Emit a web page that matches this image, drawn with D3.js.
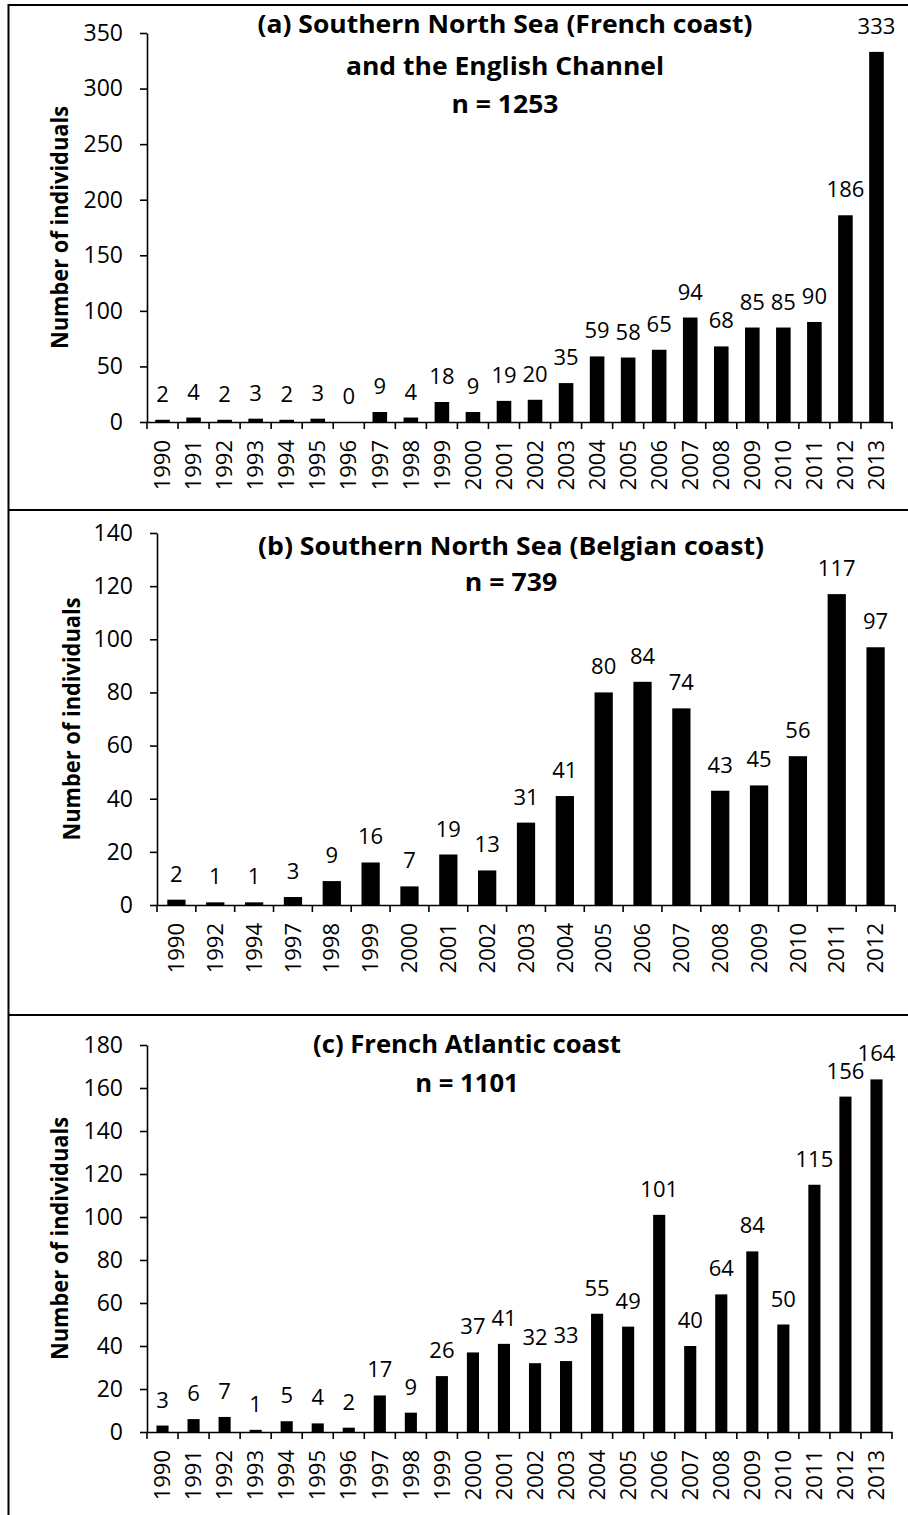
<!DOCTYPE html>
<html>
<head>
<meta charset="utf-8">
<script src="https://cdn.jsdelivr.net/npm/d3@7"></script>
<style>
  html, body { margin: 0; padding: 0; background: #fff; }
  svg { display: block; }
  text { font-family: "Open Sans", "Noto Sans", sans-serif; fill: #000; }
</style>
</head>
<body>
<svg id="chart" width="908" height="1515"></svg>
<script>
// ---------------- DATA ----------------
const yearsA = ["1990","1991","1992","1993","1994","1995","1996","1997","1998","1999","2000","2001","2002","2003","2004","2005","2006","2007","2008","2009","2010","2011","2012","2013"];
const valuesA = [2,4,2,3,2,3,0,9,4,18,9,19,20,35,59,58,65,94,68,85,85,90,186,333];
const titleA = ["(a) Southern North Sea (French coast)", "and the English Channel", "n = 1253"];
const ticksA = [0,50,100,150,200,250,300,350];

const yearsB = ["1990","1992","1994","1997","1998","1999","2000","2001","2002","2003","2004","2005","2006","2007","2008","2009","2010","2011","2012"];
const valuesB = [2,1,1,3,9,16,7,19,13,31,41,80,84,74,43,45,56,117,97];
const titleB = ["(b) Southern North Sea (Belgian coast)", "n = 739"];
const ticksB = [0,20,40,60,80,100,120,140];

const yearsC = ["1990","1991","1992","1993","1994","1995","1996","1997","1998","1999","2000","2001","2002","2003","2004","2005","2006","2007","2008","2009","2010","2011","2012","2013"];
const valuesC = [3,6,7,1,5,4,2,17,9,26,37,41,32,33,55,49,101,40,64,84,50,115,156,164];
const titleC = ["(c) French Atlantic coast", "n = 1101"];
const ticksC = [0,20,40,60,80,100,120,140,160,180];

const yAxisTitle = "Number of individuals";

// ---------------- LAYOUT ----------------
const svg = d3.select("#chart");

const panels = [
  { years: yearsA, values: valuesA, title: titleA, ticks: ticksA,
    x0: 147, x1: 892, y0: 422, y1: 33, pad: 0.53,
    titleX: 505, titleY: [33, 75, 113], titleW: 495, ylabX: 68 },
  { years: yearsB, values: valuesB, title: titleB, ticks: ticksB,
    x0: 157, x1: 895, y0: 905, y1: 533, pad: 0.53,
    titleX: 511, titleY: [555, 591], titleW: 506, ylabX: 80 },
  { years: yearsC, values: valuesC, title: titleC, ticks: ticksC,
    x0: 147, x1: 892, y0: 1432, y1: 1045, pad: 0.61,
    titleX: 467, titleY: [1053, 1092], titleW: 308, ylabX: 68 }
];

// frame: top + left border, dividers
svg.append("line").attr("x1", 8.5).attr("x2", 908).attr("y1", 5).attr("y2", 5)
  .attr("stroke", "#000").attr("stroke-width", 2);
svg.append("line").attr("x1", 8.5).attr("x2", 8.5).attr("y1", 4).attr("y2", 1515)
  .attr("stroke", "#000").attr("stroke-width", 2);
[510, 1015].forEach(yy => {
  svg.append("line").attr("x1", 8.5).attr("x2", 908).attr("y1", yy).attr("y2", yy)
    .attr("stroke", "#000").attr("stroke-width", 2.2);
});

const TITLE_FS = 25;

panels.forEach(p => {
  const g = svg.append("g");
  const maxV = p.ticks[p.ticks.length - 1];
  const x = d3.scaleBand().domain(p.years).range([p.x0, p.x1])
    .paddingInner(p.pad).paddingOuter(p.pad / 2);
  const y = d3.scaleLinear().domain([0, maxV]).range([p.y0, p.y1]);
  const rows = p.years.map((d, i) => ({ year: d, v: p.values[i] }));

  // bars
  g.selectAll("rect.bar").data(rows)
    .join("rect").attr("class", "bar")
    .attr("x", d => x(d.year)).attr("width", x.bandwidth())
    .attr("y", d => y(d.v)).attr("height", d => y(0) - y(d.v))
    .attr("fill", "#000");

  // value labels
  g.selectAll("text.val").data(rows)
    .join("text").attr("class", "val")
    .attr("x", d => x(d.year) + x.bandwidth() / 2)
    .attr("y", d => y(d.v) - 18)
    .attr("text-anchor", "middle")
    .attr("font-size", 22)
    .text(d => d.v);

  // y axis
  const ya = g.append("g").attr("transform", `translate(${p.x0},0)`)
    .call(d3.axisLeft(y).tickValues(p.ticks).tickSize(7).tickPadding(17).tickSizeOuter(0));
  ya.select(".domain").attr("stroke", "#000").attr("stroke-width", 1.6);
  ya.selectAll(".tick line").attr("stroke", "#000").attr("stroke-width", 1.6);
  ya.selectAll(".tick text").attr("font-size", 23).attr("font-family", "Open Sans").attr("fill", "#000");

  // x axis
  const xa = g.append("g").attr("transform", `translate(0,${p.y0})`)
    .call(d3.axisBottom(x).tickSize(0).tickSizeOuter(0));
  xa.select(".domain").attr("stroke", "#000").attr("stroke-width", 1.6);
  xa.selectAll(".tick text")
    .attr("font-size", 22).attr("font-family", "Open Sans").attr("fill", "#000")
    .attr("transform", "rotate(-90)")
    .attr("x", -18).attr("y", 0).attr("dy", "0.35em")
    .attr("text-anchor", "end");
  // boundary ticks
  const half = x.step() * x.paddingInner() / 2;
  const bounds = p.years.map(d => x(d) - half).concat([p.x1]);
  g.selectAll("line.xt").data(bounds).join("line").attr("class", "xt")
    .attr("x1", d => d).attr("x2", d => d)
    .attr("y1", p.y0).attr("y2", p.y0 + 7)
    .attr("stroke", "#000").attr("stroke-width", 1.6);

  // title (condensed a little to mimic the original narrow face)
  const tl = p.title.map((line, i) =>
    g.append("text").attr("font-weight", "bold").attr("font-size", TITLE_FS)
      .attr("text-anchor", "middle").attr("x", p.titleX).attr("y", p.titleY[i]).text(line));
  const ratio = p.titleW / tl[0].node().getComputedTextLength();
  tl.forEach(t => {
    const w = t.node().getComputedTextLength();
    t.attr("textLength", w * ratio).attr("lengthAdjust", "spacingAndGlyphs");
  });

  // y axis title
  const cy = (p.y0 + p.y1) / 2;
  g.append("text").attr("font-weight", "bold").attr("font-size", 23)
    .attr("text-anchor", "middle")
    .attr("transform", `translate(${p.ylabX},${cy}) rotate(-90)`)
    .attr("textLength", 243).attr("lengthAdjust", "spacingAndGlyphs")
    .text(yAxisTitle);
});
</script>
</body>
</html>
